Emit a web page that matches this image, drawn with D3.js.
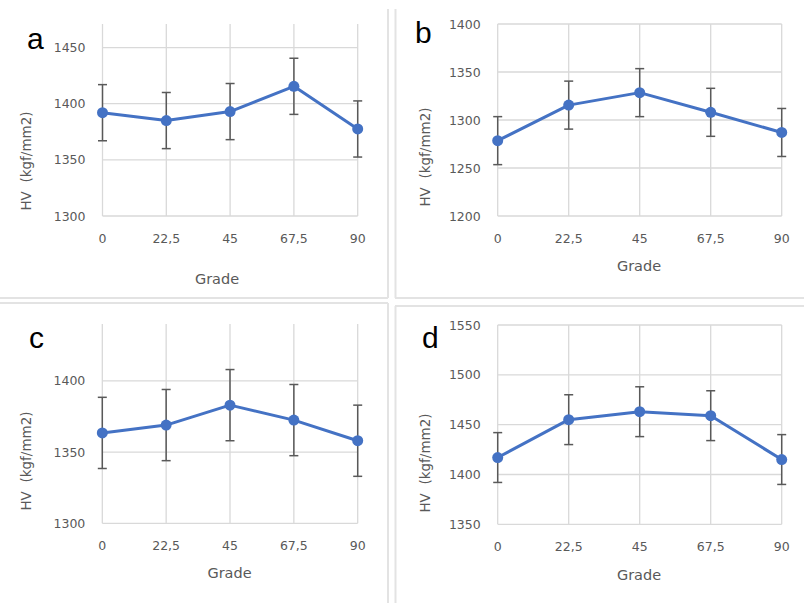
<!DOCTYPE html>
<html>
<head>
<meta charset="utf-8">
<script src="https://cdn.jsdelivr.net/npm/d3@7"></script>
<style>
  html, body { margin: 0; padding: 0; background: #fff; }
  svg { display: block; }
  text { white-space: pre; }
</style>
</head>
<body>
<svg id="chart" width="804" height="603"></svg>
<script>
// ---------- data ----------
const grades = ["0", "22,5", "45", "67,5", "90"];

const hvA = [1392, 1385, 1393, 1415.5, 1377.5];
const hvB = [1278.5, 1315.5, 1328.5, 1308, 1287];
const hvC = [1363.5, 1369, 1383, 1372.5, 1358];
const hvD = [1417, 1455, 1463, 1459, 1415];

const errA = [25, 25, 25, 25, 25];
const errB = [25, 25, 25, 25, 25];
const errC = [25, 25, 25, 25, 25];
const errD = [25, 25, 25, 25, 25];

const ticksA = [1300, 1350, 1400, 1450];
const ticksB = [1200, 1250, 1300, 1350, 1400];
const ticksC = [1300, 1350, 1400];
const ticksD = [1350, 1400, 1450, 1500, 1550];

const domainA = [1300, 1471];
const domainB = [1200, 1400];
const domainC = [1300, 1440];
const domainD = [1350, 1550];

const panelLabels = ["a", "b", "c", "d"];
const xTitle = "Grade";
const yTitle = "HV  (kgf/mm2)";

// ---------- layout ----------
const panels = [
  { label: panelLabels[0], values: hvA, err: errA, ticks: ticksA, domain: domainA,
    left: 102.5, right: 357.7, top: 24, bottom: 216, gradeX: 217, gradeY: 279, titleX: 26, titleY: 161,
    labelX: 27, labelY: 49 },
  { label: panelLabels[1], values: hvB, err: errB, ticks: ticksB, domain: domainB,
    left: 497.7, right: 781.7, top: 24, bottom: 216, gradeX: 639, gradeY: 266, titleX: 425, titleY: 157,
    labelX: 415, labelY: 43 },
  { label: panelLabels[2], values: hvC, err: errC, ticks: ticksC, domain: domainC,
    left: 102.3, right: 357.7, top: 324, bottom: 523.3, gradeX: 229.5, gradeY: 572.5, titleX: 26, titleY: 461,
    labelX: 29, labelY: 348 },
  { label: panelLabels[3], values: hvD, err: errD, ticks: ticksD, domain: domainD,
    left: 497.7, right: 781.7, top: 325, bottom: 524.3, gradeX: 639, gradeY: 575, titleX: 425, titleY: 463,
    labelX: 422, labelY: 348 }
];

const svg = d3.select("#chart");
const gridColor = "#d9d9d9";
const textColor = "#595959";
const seriesColor = "#4472C4";
const errColor = "#595959";
const tickFont = "DejaVu Sans, sans-serif";

// panel frames
const frames = [
  [388, 9, 388, 298], [0, 298, 388, 298],
  [395.5, 9, 395.5, 298], [395, 298, 804, 298],
  [0, 303, 388, 303], [388, 303, 388, 603],
  [395, 306, 804, 306], [395.5, 306, 395.5, 603]
];
svg.append("g").selectAll("line").data(frames).join("line")
  .attr("x1", d => d[0]).attr("y1", d => d[1])
  .attr("x2", d => d[2]).attr("y2", d => d[3])
  .attr("stroke", "#e3e3e3").attr("stroke-width", 2);

panels.forEach(p => {
  const g = svg.append("g");
  const x = d3.scalePoint().domain(grades).range([p.left, p.right]).padding(0);
  const y = d3.scaleLinear().domain(p.domain).range([p.bottom, p.top]);

  // vertical gridlines
  g.append("g").selectAll("line").data(grades).join("line")
    .attr("x1", d => x(d)).attr("x2", d => x(d))
    .attr("y1", y(p.domain[0])).attr("y2", y(p.domain[1]))
    .attr("stroke", gridColor).attr("stroke-width", 1.3);

  // horizontal gridlines
  g.append("g").selectAll("line").data(p.ticks).join("line")
    .attr("x1", p.left).attr("x2", p.right)
    .attr("y1", d => y(d)).attr("y2", d => y(d))
    .attr("stroke", gridColor).attr("stroke-width", 1.3);

  // y tick labels
  g.append("g").selectAll("text").data(p.ticks).join("text")
    .attr("x", p.left - 17).attr("y", d => y(d))
    .attr("text-anchor", "end").attr("dominant-baseline", "central")
    .attr("font-family", tickFont).attr("font-size", 12.5)
    .attr("fill", textColor).text(d => d);

  // x tick labels
  g.append("g").selectAll("text").data(grades).join("text")
    .attr("x", d => x(d)).attr("y", p.bottom + 22)
    .attr("text-anchor", "middle").attr("dominant-baseline", "central")
    .attr("font-family", tickFont).attr("font-size", 12.5)
    .attr("fill", textColor).text(d => d);

  // x title
  g.append("text").attr("x", p.gradeX).attr("y", p.gradeY)
    .attr("text-anchor", "middle").attr("dominant-baseline", "central")
    .attr("font-family", tickFont).attr("font-size", 14.5)
    .attr("fill", textColor).text(xTitle);

  // y title
  g.append("text")
    .attr("transform", `translate(${p.titleX},${p.titleY}) rotate(-90)`)
    .attr("text-anchor", "middle").attr("dominant-baseline", "central")
    .attr("font-family", tickFont).attr("font-size", 13.5)
    .attr("fill", textColor).text(yTitle);

  // error bars
  const eb = g.append("g").attr("stroke", errColor).attr("stroke-width", 1.5);
  p.values.forEach((v, i) => {
    const cx = x(grades[i]);
    const hi = y(v + p.err[i]), lo = y(v - p.err[i]);
    eb.append("line").attr("x1", cx).attr("x2", cx).attr("y1", hi).attr("y2", lo);
    eb.append("line").attr("x1", cx - 4.5).attr("x2", cx + 4.5).attr("y1", hi).attr("y2", hi);
    eb.append("line").attr("x1", cx - 4.5).attr("x2", cx + 4.5).attr("y1", lo).attr("y2", lo);
  });

  // series line
  const line = d3.line().x((d, i) => x(grades[i])).y(d => y(d));
  g.append("path").datum(p.values).attr("d", line)
    .attr("fill", "none").attr("stroke", seriesColor)
    .attr("stroke-width", 3).attr("stroke-linejoin", "round");

  // markers
  g.append("g").selectAll("circle").data(p.values).join("circle")
    .attr("cx", (d, i) => x(grades[i])).attr("cy", d => y(d))
    .attr("r", 5.5).attr("fill", seriesColor);

  // panel label
  g.append("text").attr("x", p.labelX).attr("y", p.labelY)
    .attr("font-family", "Liberation Sans, Arial, sans-serif").attr("font-size", 30)
    .attr("fill", "#000").text(p.label);
});
</script>
</body>
</html>
